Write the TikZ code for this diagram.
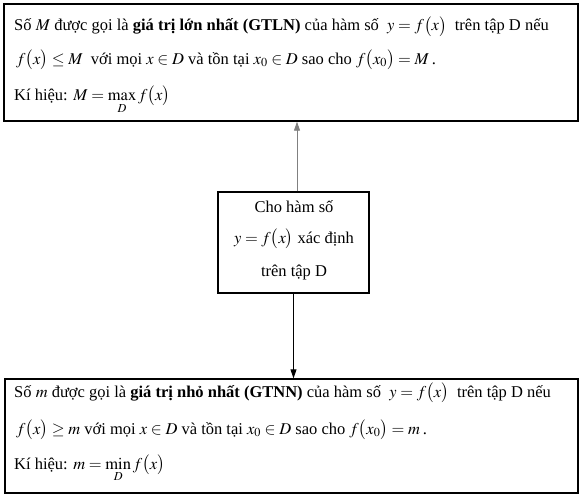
\documentclass[tikz,border=0pt]{standalone}
\usepackage{amsmath}
\usepackage{mathptmx}
\usepackage{fontspec}
\setmainfont{Liberation Serif}
\usepackage{tikz}
\usetikzlibrary{arrows.meta, positioning}
\newcommand{\fof}[1]{f\bigl(#1\bigr)}
\newcommand{\sub}[1]{\raisebox{-2pt}{$\scriptstyle #1$}}
\tikzset{
		box/.style={draw, line width=1.4pt, inner sep=0pt},
		txtline/.style={anchor=base west, inner sep=0pt, font=\fontsize{16.5}{19}\selectfont},
		midline/.style={anchor=base, inner sep=0pt, font=\fontsize{16.5}{19}\selectfont},
		arr/.style={-{Triangle[length=9pt,width=6pt]}, line width=0.9pt}
	}
\begin{document}
\begin{tikzpicture}[x=1pt,y=-1pt]
				\useasboundingbox (0,0) rectangle (583,495);
				% boxes
				\node[box, minimum width=574pt, minimum height=117pt] (gtln) at (291,62.5) {};
				\node[box, minimum width=151pt, minimum height=101pt] (cho)  at (293.5,242.5) {};
				\node[box, minimum width=573pt, minimum height=114pt] (gtnn) at (291.5,436) {};
				% top box text
				\node[txtline] (gtln1) at (14,31)  {Số $M$ được gọi là \textbf{giá trị lớn nhất (GTLN)} của hàm số\ \ $y=\fof{x}$\ \ trên tập D nếu};
				\node[txtline] (gtln2) at (16,64)  {$\fof{x}\le M$\ \ với mọi\ $x\in D$ và tồn tại\ $x_0\in D$\ sao cho\ $\fof{x_0}=M$\,.};
				\node[txtline] (gtln3) at (14,100) {Kí hiệu: $M=\mathop{\mathrm{max}}\limits_{\sub{D}} \fof{x}$};
				% middle box text
				\node[midline] (cho1) at (294,212) {Cho hàm số};
				\node[midline] (cho2) at (294,243) {$y=\fof{x}$\ xác định};
				\node[midline] (cho3) at (294,276) {trên tập D};
				% bottom box text
				\node[txtline] (gtnn1) at (14,397) {Số $m$ được gọi là \textbf{giá trị nhỏ nhất (GTNN)} của hàm số\ \ $y=\fof{x}$\ \ trên tập D nếu};
				\node[txtline] (gtnn2) at (16,434) {$\fof{x}\ge m$\ với mọi\ $x\in D$ và tồn tại\ $x_0\in D$\ sao cho\ $\fof{x_0}=m$\,.};
				\node[txtline] (gtnn3) at (14,469) {Kí hiệu: $m=\mathop{\mathrm{min}}\limits_{\sub{D}} \fof{x}$};
				% arrows
				\draw[arr, gray] ([xshift=3.5pt]cho.north) -- ([xshift=3.5pt]cho.north |- gtln.south);
				\draw[arr] (cho.south) -- (cho.south |- gtnn.north);
			\end{tikzpicture}
\end{document}
